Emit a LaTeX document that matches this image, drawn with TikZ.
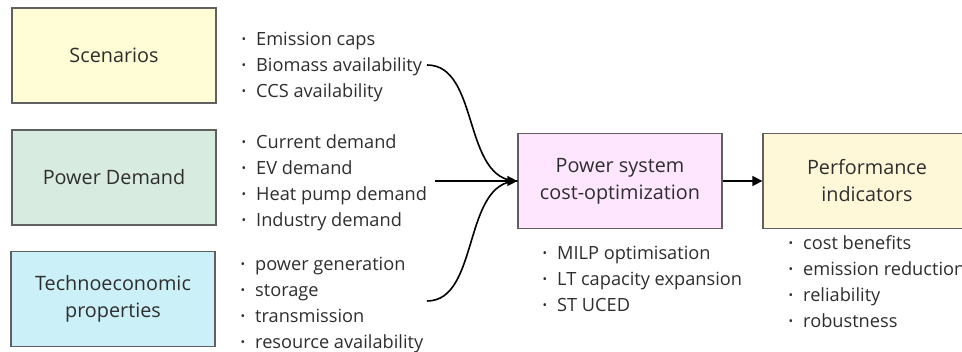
\documentclass[tikz,border=0pt]{standalone}
\usepackage{fontspec}
\setmainfont{Open Sans}
\usetikzlibrary{arrows.meta}
\definecolor{txt}{HTML}{2E2E2E}
\definecolor{bord}{HTML}{606060}
\definecolor{cScen}{HTML}{FFFDD6}
\definecolor{cDem}{HTML}{D8EBE1}
\definecolor{cTech}{HTML}{CCF0F7}
\definecolor{cOpt}{HTML}{FFE6FF}
\definecolor{cPerf}{HTML}{FFF8D8}
\newcommand\bul{\llap{\raisebox{2.2pt}{\fontsize{12}{12}\selectfont •}\hspace{10pt}}}
\tikzset{
  box/.style={draw=bord, line width=1.3pt, minimum width=204pt, minimum height=95pt,
    align=center, text=txt, font=\fontsize{19.8}{27}\selectfont, inner sep=0pt},
  item/.style={anchor=base west, text=txt, font=\fontsize{18.2}{26}\selectfont, inner sep=1pt},
  conn/.style={line width=1.6pt, black},
  tip/.style={-{Triangle[length=10pt,width=10pt]}}
}
\begin{document}
\begin{tikzpicture}[x=1pt,y=-1pt]
\useasboundingbox (0,0) rectangle (962,352);
% boxes
\node[box, fill=cScen] (scen) at (114,55.5) {Scenarios};
\node[box, fill=cDem] (dem) at (114,177.5) {Power Demand};
\node[box, fill=cTech] (tech) at (113,299) {Technoeconomic\\properties};
\node[box, fill=cOpt] (opt) at (620,181) {Power system\\cost-optimization};
\node[box, fill=cPerf, minimum width=208pt] (perf) at (867,181) {Performance\\indicators};
% scenario list
\node[item] (s1) at (255,46) {\bul Emission caps};
\node[item] (s2) at (255,72) {\bul Biomass availability};
\node[item] (s3) at (255,98) {\bul CCS availability};
% demand list
\node[item] (d1) at (255,149) {\bul Current demand};
\node[item] (d2) at (255,175) {\bul EV demand};
\node[item] (d3) at (255,201) {\bul Heat pump demand};
\node[item] (d4) at (255,227) {\bul Industry demand};
% techno list
\node[item] (t1) at (254,271) {\bul power generation};
\node[item] (t2) at (254,297) {\bul storage};
\node[item] (t3) at (254,323) {\bul transmission};
\node[item] (t4) at (254,349) {\bul resource availability};
% optimisation list
\node[item] (o1) at (556,260) {\bul MILP optimisation};
\node[item] (o2) at (556,286) {\bul LT capacity expansion};
\node[item] (o3) at (556,312) {\bul ST UCED};
% performance list
\node[item] (p1) at (802,250) {\bul cost benefits};
\node[item] (p2) at (802,276) {\bul emission reduction};
\node[item] (p3) at (802,302) {\bul reliability};
\node[item] (p4) at (802,328) {\bul robustness};
% connectors
\coordinate (top) at (427,65);
\coordinate (mid) at (435,181);
\coordinate (bot) at (427,301);
\draw[conn] (top) .. controls (480,65) and (462,181) .. (opt.west);
\draw[conn] (bot) .. controls (480,301) and (462,181) .. (opt.west);
\draw[conn, tip] (mid) -- (opt.west);
\draw[conn, tip] (opt.east) -- (perf.west);
\end{tikzpicture}
\end{document}
